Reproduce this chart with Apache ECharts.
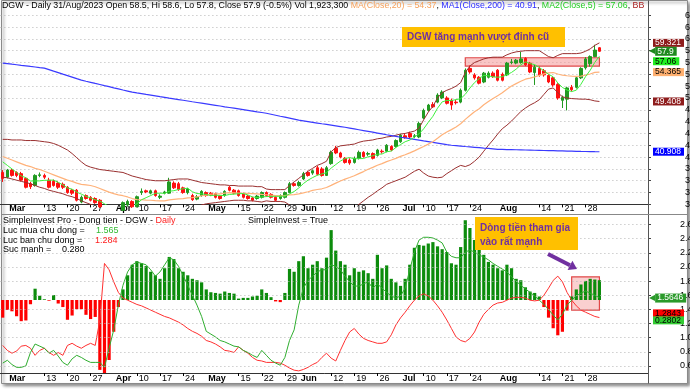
<!DOCTYPE html>
<html><head><meta charset="utf-8">
<script src="https://cdn.jsdelivr.net/npm/echarts@6/dist/echarts.min.js"></script>
<style>html,body{margin:0;padding:0;background:#fff}#c{width:690px;height:390px}</style>
</head><body><div id="c"></div>
<script>
// ---------------- DATA ----------------
const tradingDays = [
  ['02',[28]],
  ['03',[1,2,3,6,7,8,9,10,13,14,15,16,17,20,21,22,23,24,27,28,29,30,31]],
  ['04',[3,4,5,6,7,10,11,12,13,14,17,18,19,20,21,24,25,26,27,28]],
  ['05',[4,5,8,9,10,11,12,15,16,17,18,19,22,23,24,25,26,29,30,31]],
  ['06',[1,2,5,6,7,8,9,12,13,14,15,16,19,20,21,22,23,26,27,28,29,30]],
  ['07',[3,4,5,6,7,10,11,12,13,14,17,18,19,20,21,24,25,26,27,28,31]],
  ['08',[1,2,3,4,7,8,9,10,11,14,15,16,17,18,21,22,23,24,25,28,29,30,31]]
];
const tickLabels = [
  ['03-01','Mar'],['03-13','13'],['03-20','20'],['03-27','27'],['04-03','Apr'],['04-10','10'],['04-17','17'],['04-24','24'],
  ['05-04','May'],['05-15','15'],['05-22','22'],['05-29','29'],['06-01','Jun'],['06-12','12'],['06-19','19'],['06-26','26'],
  ['07-03','Jul'],['07-10','10'],['07-17','17'],['07-24','24'],['08-01','Aug'],['08-14','14'],['08-21','21'],['08-28','28']
];
const monthNames = ['Mar','Apr','May','Jun','Jul','Aug'];
const lowTicks = [0.6,0.8,1.0,1.2,1.4,1.6,1.8,2.0,2.2,2.4,2.6];

const openP = [37.4,36.6,37.8,37.4,37.2,36.4,35.5,35.2,36.9,36.9,
36.1,35.9,35.6,35.4,34.9,34.4,34.4,32.4,33.5,33.2,
33.0,32.7,31.6,30.9,30.7,31.0,31.0,31.9,32.5,31.6,
34.0,34.3,33.9,34.3,33.2,33.9,33.9,35.6,35.5,34.8,
34.0,33.5,32.9,33.5,34.0,33.9,33.8,33.4,33.5,34.9,
34.4,34.3,33.8,33.4,33.1,33.0,33.2,34.0,33.7,33.2,
33.0,33.2,34.0,35.5,35.2,36.3,37.4,37.3,38.2,38.0,
36.9,38.9,41.5,40.7,39.8,39.5,39.1,39.8,40.8,40.5,
40.6,40.3,41.0,41.0,41.8,41.8,42.6,43.6,44.0,43.5,
43.4,46.6,47.9,48.9,49.3,50.0,50.0,49.6,49.3,49.3,
51.3,55.0,53.9,53.5,52.7,53.5,54.2,54.7,54.0,53.9,
56.0,55.9,56.0,56.7,55.9,54.3,55.0,54.6,53.8,53.4,
52.3,49.6,49.8,51.8,51.8,53.4,55.1,55.8,57.0,58.5];
const highP = [37.8,38.0,38.0,37.6,37.5,36.6,35.8,37.1,37.4,37.2,
36.5,36.2,35.9,35.7,35.1,34.6,34.6,33.5,33.7,33.4,
33.2,32.9,31.9,31.2,31.4,31.5,32.5,32.8,32.7,33.5,
34.7,34.5,34.5,34.5,33.7,34.3,36.5,35.9,35.8,35.0,
34.8,33.8,33.6,34.4,34.2,34.1,34.0,33.6,34.4,35.1,
34.6,34.5,34.0,33.6,33.3,33.6,34.2,34.2,33.9,33.4,
33.7,34.2,35.8,35.8,36.0,37.5,37.7,37.9,38.5,38.3,
38.5,41.1,41.9,40.9,40.0,39.8,40.1,41.1,41.0,40.9,
40.8,41.4,41.3,42.2,42.0,43.0,43.9,44.0,44.3,43.9,
46.0,48.2,49.0,49.3,50.8,51.3,50.3,49.9,49.7,51.6,
55.0,55.5,54.2,53.7,54.4,54.5,54.5,54.9,54.3,56.1,
56.6,56.6,57.8,56.9,56.1,55.6,55.3,54.9,54.0,53.6,
52.5,50.4,51.9,52.2,53.6,55.2,56.9,57.2,59.0,58.6];
const lowP = [35.8,36.4,36.7,36.6,35.9,34.7,34.6,35.0,36.6,36.3,
34.7,35.0,34.6,34.6,33.8,33.6,32.5,32.2,32.8,32.5,
32.1,31.4,30.7,30.3,30.4,30.6,30.9,31.6,31.4,31.5,
33.6,33.9,33.7,33.3,32.9,33.7,33.8,34.6,34.3,33.8,
33.7,32.6,32.7,33.3,33.3,33.4,33.0,32.8,33.3,34.2,
33.7,33.3,33.0,32.8,32.5,32.8,33.0,33.3,33.0,32.5,
32.8,33.0,33.9,35.0,35.0,36.1,36.7,37.0,36.9,36.7,
36.8,38.7,40.5,39.8,38.9,38.7,38.9,39.6,39.9,40.2,
39.6,40.1,40.6,40.8,41.0,41.6,42.4,43.1,43.1,43.2,
43.2,46.4,47.7,48.3,49.1,49.8,48.9,48.0,48.9,49.1,
51.1,54.1,53.1,52.3,52.5,53.3,53.4,52.8,52.8,53.7,
55.7,55.7,55.8,55.4,54.2,52.2,53.6,53.6,52.5,51.9,
49.7,48.3,47.9,51.1,51.6,53.2,54.8,55.3,56.9,57.8];
const closeP = [36.4,37.8,36.9,36.9,36.1,34.9,35.0,36.9,37.0,36.6,
34.9,35.2,34.9,34.9,34.0,33.9,32.7,33.2,33.0,32.7,
32.3,31.6,30.9,30.6,31.0,30.8,32.3,32.5,31.6,33.3,
34.2,34.1,34.3,33.5,33.4,34.1,35.8,34.8,34.5,34.0,
34.6,32.8,33.3,34.2,33.5,33.6,33.2,33.0,34.2,34.4,
33.9,33.5,33.2,33.0,32.7,33.4,34.0,33.5,33.2,32.7,
33.5,34.0,35.5,35.2,35.7,37.2,36.9,37.7,37.1,36.9,
38.2,40.8,40.7,40.0,39.1,39.0,39.8,40.8,40.1,40.6,
39.8,41.2,40.9,42.0,41.2,42.8,43.7,43.3,43.4,43.6,
45.7,47.9,48.8,48.5,50.5,51.0,49.1,48.8,49.2,51.3,
54.7,54.4,53.4,52.5,54.2,54.2,53.6,53.0,53.0,55.9,
56.1,56.4,56.6,55.6,54.4,55.2,53.9,53.9,52.7,52.2,
50.0,50.1,51.7,51.4,53.4,55.0,56.6,57.0,58.1,57.9];
const volumeLast = '1,923,300';
const changePct = '-0.5%';

const ma5 = [39.2,38.6,38.0,37.4,36.82,36.52,35.96,35.96,35.98,36.08,
36.08,36.12,35.72,35.3,34.78,34.58,34.08,33.74,33.36,33.1,
32.78,32.56,32.1,31.62,31.28,30.98,31.12,31.44,31.64,32.1,
32.78,33.14,33.5,33.88,33.9,33.88,34.22,34.32,34.52,34.64,
34.74,34.14,33.84,33.78,33.68,33.48,33.56,33.5,33.5,33.68,
33.74,33.8,33.84,33.6,33.26,33.16,33.26,33.32,33.36,33.36,
33.38,33.38,33.78,34.18,34.78,35.52,36.1,36.54,36.92,37.16,
37.36,38.14,38.74,39.32,39.76,39.92,39.72,39.74,39.76,40.06,
40.22,40.5,40.52,40.9,41.02,41.62,42.12,42.6,42.88,43.36,
43.94,44.78,45.88,46.9,48.28,49.34,49.58,49.58,49.72,49.88,
50.62,51.68,52.6,53.26,53.84,53.74,53.58,53.5,53.6,53.94,
54.32,54.88,55.6,56.12,55.82,55.64,55.14,54.6,54.02,53.58,
52.54,51.78,51.34,51.08,51.32,52.32,53.62,54.68,56.02,57.06];
const ma20 = [40.1,39.8,39.5,39.2,38.9,38.6,38.4,38.1,37.9,37.6,
37.3,37.0,36.7,36.4,36.1,35.9,35.6,35.4,35.3,35.2,
34.99,34.69,34.38,34.07,33.82,33.61,33.47,33.26,32.99,32.82,
32.79,32.73,32.70,32.63,32.60,32.61,32.77,32.85,32.92,32.99,
33.10,33.16,33.28,33.46,33.58,33.72,33.77,33.79,33.92,33.98,
33.96,33.93,33.88,33.85,33.82,33.78,33.69,33.63,33.56,33.50,
33.44,33.50,33.61,33.66,33.77,33.95,34.14,34.37,34.52,34.64,
34.86,35.22,35.60,35.95,36.27,36.55,36.84,37.20,37.55,37.94,
38.26,38.62,38.89,39.23,39.50,39.78,40.12,40.40,40.72,41.05,
41.43,41.78,42.19,42.61,43.18,43.78,44.25,44.65,45.10,45.64,
46.38,47.04,47.67,48.19,48.84,49.41,49.91,50.39,50.87,51.49,
52.01,52.43,52.82,53.18,53.37,53.58,53.82,54.08,54.25,54.30,
54.06,53.85,53.76,53.71,53.67,53.71,53.86,54.06,54.32,54.365];
const ma200 = [55.90,55.81,55.71,55.62,55.52,55.43,55.33,55.24,55.14,55.05,
54.80,54.54,54.29,54.03,53.78,53.53,53.27,53.02,52.83,52.65,
52.46,52.28,52.09,51.91,51.72,51.54,51.35,51.17,50.98,50.85,
50.73,50.60,50.48,50.35,50.22,50.10,49.97,49.85,49.73,49.61,
49.49,49.36,49.24,49.12,49.00,48.88,48.76,48.64,48.51,48.39,
48.27,48.15,48.03,47.91,47.79,47.66,47.54,47.42,47.25,47.08,
46.91,46.75,46.58,46.41,46.24,46.12,46.00,45.88,45.76,45.64,
45.53,45.41,45.29,45.17,45.05,44.91,44.77,44.63,44.49,44.35,
44.21,44.07,43.93,43.78,43.64,43.50,43.36,43.24,43.11,42.99,
42.87,42.74,42.62,42.49,42.37,42.25,42.12,42.00,41.93,41.86,
41.79,41.73,41.66,41.59,41.52,41.46,41.39,41.32,41.30,41.28,
41.26,41.24,41.22,41.20,41.18,41.16,41.14,41.12,41.10,41.08,
41.06,41.04,41.02,41.00,40.98,40.96,40.95,40.94,40.92,40.908];
const bbUpper = [43.0,43.0,42.9,42.9,42.9,42.8,42.8,42.8,42.7,42.6,
42.5,42.3,42.0,41.6,41.2,40.6,39.9,39.2,38.6,38.3,
38.1,37.9,37.8,37.7,37.6,37.5,37.4,37.1,36.8,36.6,
36.4,36.2,36.1,36.0,36.0,36.0,36.1,36.2,36.3,36.3,
36.3,36.1,35.9,35.7,35.6,35.5,35.4,35.3,35.3,35.2,
35.2,35.1,35.1,35.1,35.1,35.0,35.0,34.6,34.5,34.5,
34.5,34.5,35.2,35.8,36.4,37.0,37.6,38.1,38.6,38.9,
39.3,40.9,41.6,41.9,42.0,42.1,42.2,42.5,42.7,42.8,
42.9,43.1,43.2,43.4,43.5,43.7,43.9,44.0,44.2,44.4,
44.9,46.3,47.6,48.6,50.0,50.9,51.3,51.6,52.0,52.6,
54.3,55.4,56.0,56.3,56.6,56.8,56.9,56.9,56.9,57.3,
57.6,57.8,57.9,58.0,58.0,58.0,58.0,57.5,57.0,56.8,
57.2,57.5,57.5,57.5,57.5,57.6,57.9,58.3,58.9,59.321];
const bbLower = [36.6,36.5,36.3,36.1,35.9,35.7,35.5,35.2,34.9,34.7,
34.4,34.2,34.0,33.8,33.5,33.3,33.0,32.6,32.3,32.0,
31.7,31.4,31.0,30.6,30.2,29.9,29.7,29.6,29.6,29.6,
29.6,29.6,29.7,29.8,29.9,30.0,30.2,30.4,30.6,30.8,
31.1,31.3,31.6,31.9,32.1,32.2,32.3,32.4,32.5,32.6,
32.7,32.7,32.7,32.6,32.6,32.5,32.4,32.6,32.5,32.5,
32.5,32.4,31.9,31.5,31.0,30.5,30.2,30.1,30.0,30.1,
30.4,29.5,29.3,29.5,29.9,30.5,31.4,32.0,32.6,33.2,
33.7,34.3,34.8,35.4,35.7,36.0,36.3,36.6,37.1,37.6,
37.95,37.3,36.8,36.6,36.5,36.6,37.2,37.7,38.2,38.6,
38.4,38.7,39.3,40.0,41.0,42.0,42.9,43.9,44.8,45.4,
46.1,46.9,47.7,48.3,48.8,49.2,49.7,50.6,51.5,51.7,
50.9,50.2,50.0,49.9,49.85,49.8,49.8,49.7,49.5,49.408];

const lucMua = [0.64,0.68,0.62,0.58,0.58,0.60,0.79,0.91,0.88,0.85,
0.78,0.82,0.74,0.65,0.61,0.70,0.75,0.72,0.68,0.65,
0.65,0.65,0.58,0.85,1.11,1.46,1.74,1.93,2.03,2.07,
2.05,2.03,1.96,1.87,1.93,2.03,2.13,2.10,2.01,1.88,
1.74,1.60,1.46,1.30,1.09,1.05,1.01,0.96,0.94,0.91,
0.88,0.87,0.82,0.79,0.75,0.72,0.82,0.75,0.68,0.64,
0.61,0.72,0.96,1.11,1.46,1.70,1.81,1.87,1.93,1.96,
1.96,2.03,2.01,1.96,1.87,1.79,1.73,1.73,1.76,1.79,
1.70,1.76,1.70,1.64,1.59,1.56,1.59,1.70,1.96,2.21,
2.38,2.42,2.42,2.41,2.38,2.34,2.21,2.15,2.13,2.13,
2.21,2.24,2.21,2.17,2.14,2.10,2.05,2.01,1.97,1.93,
1.86,1.80,1.74,1.69,1.64,1.59,1.53,1.47,1.40,1.32,
1.25,1.33,1.46,1.53,1.59,1.63,1.66,1.63,1.60,1.5646];
const lucBan = [0.89,0.82,0.78,0.81,0.88,0.89,0.85,0.75,0.82,0.85,
0.79,0.75,0.79,0.75,0.89,0.92,0.88,0.85,0.89,0.92,
0.89,1.25,2.05,1.96,1.79,1.64,1.56,1.53,1.50,1.47,
1.45,1.42,1.39,1.36,1.33,1.30,1.28,1.25,1.22,1.18,
1.13,1.09,1.06,1.02,0.96,0.94,0.91,0.87,0.82,0.81,
0.79,0.87,0.82,0.78,0.72,0.68,0.67,0.65,0.65,0.65,
0.64,0.61,0.57,0.54,0.53,0.55,0.58,0.62,0.65,0.72,
0.78,0.71,0.67,0.82,0.96,1.08,1.13,1.05,0.99,0.96,
0.94,0.92,0.92,0.94,1.04,1.18,1.28,1.36,1.45,1.53,
1.59,1.62,1.59,1.53,1.45,1.36,1.25,1.13,1.01,0.96,
0.94,0.99,1.08,1.22,1.33,1.40,1.46,1.49,1.50,1.53,
1.56,1.57,1.57,1.56,1.53,1.52,1.53,1.60,1.70,1.81,
1.87,1.79,1.64,1.53,1.45,1.39,1.36,1.33,1.30,1.2843];
const sucManh = [-0.25,-0.14,-0.16,-0.23,-0.30,-0.29,-0.06,0.16,0.06,0.01,
-0.01,0.07,-0.05,-0.10,-0.28,-0.22,-0.13,-0.13,-0.21,-0.27,
-0.24,-0.99,-1.05,-0.85,-0.45,-0.10,0.15,0.35,0.50,0.55,
0.52,0.48,0.40,0.35,0.30,0.45,0.61,0.58,0.45,0.40,
0.35,0.30,0.28,0.25,0.15,0.11,0.10,0.09,0.12,0.10,
0.09,0.02,0.03,0.03,0.05,0.06,0.15,0.10,0.04,-0.02,
-0.03,0.10,0.44,0.40,0.55,0.62,0.45,0.50,0.55,0.45,
0.60,0.99,0.70,0.55,0.50,0.35,0.45,0.40,0.42,0.38,
0.30,0.64,0.45,0.49,0.30,0.25,0.20,0.30,0.50,0.74,
0.78,0.77,0.80,0.82,0.76,0.72,0.68,0.52,0.50,0.75,
1.13,1.02,0.85,0.71,0.64,0.54,0.50,0.45,0.42,0.50,
0.45,0.30,0.28,0.18,0.12,0.10,0.05,-0.10,-0.25,-0.40,
-0.50,-0.45,-0.15,0.05,0.15,0.22,0.27,0.30,0.29,0.2802];

// ---------------- BUILD ----------------
const dates = [];
tradingDays.forEach(([m, ds]) => ds.forEach(d => dates.push(m + '-' + String(d).padStart(2, '0'))));
const cats = dates.slice();
for (let k = 1; k <= 10; k++) cats.push('pad' + k);
const labelMap = new Map(tickLabels);
const last = a => a[a.length - 1];
const candles = dates.map((d, i) => [openP[i], closeP[i], lowP[i], highP[i]]);
const F = 'Liberation Sans, Arial, sans-serif';

function xAxisCfg(g, margin) {
  return {
    gridIndex: g, type: 'category', data: cats, boundaryGap: true,
    axisLine: { show: true, onZero: false, lineStyle: { color: '#333', width: 1 } },
    axisTick: { show: true, alignWithLabel: true, length: 3,
      interval: (i, v) => labelMap.has(v) && monthNames.indexOf(labelMap.get(v)) < 0,
      lineStyle: { color: '#000' } },
    axisLabel: {
      interval: (i, v) => labelMap.has(v),
      formatter: v => { const t = labelMap.get(v) || ''; return monthNames.indexOf(t) >= 0 ? '{m|' + t + '}' : t; },
      align: 'left', margin: margin, fontSize: 9, color: '#000', fontFamily: F, padding: [0, 0, 0, 2],
      rich: { m: { fontWeight: 'bold', fontSize: 9, fontFamily: F, color: '#000' } }
    },
    splitLine: { show: false }
  };
}
function tag(value, text, bg, fg, dy, arrow) {
  const lbl = {
    show: true, position: 'end', distance: arrow ? 1 : 5, offset: [0, dy || 0], opacity: 1,
    fontSize: 8.5, fontFamily: F, color: fg
  };
  if (arrow) {
    lbl.formatter = '{t|\u25C0}{b|' + text + '}';
    lbl.rich = {
      t: { color: bg, fontSize: 8, fontFamily: 'DejaVu Sans', lineHeight: 8 },
      b: { backgroundColor: bg, color: fg, fontSize: 8.5, fontFamily: F, padding: [0, 3, 0, 2], lineHeight: 8 }
    };
  } else {
    lbl.formatter = text;
    lbl.backgroundColor = bg;
    lbl.padding = [0, 3, 0, 2];
    lbl.lineHeight = 8;
  }
  return { yAxis: value, lineStyle: { color: 'rgba(0,0,0,0)', width: 0 }, label: lbl };
}
function mline(items) {
  return { silent: true, symbol: 'none', animation: false, data: items };
}
const f2 = v => (v + 1e-9).toFixed(2);

const header = '{k|DGW - Daily 31/Aug/2023 Open ' + last(openP) + ', Hi ' + last(highP) + ', Lo ' + last(lowP) +
  ', Close ' + last(closeP) + ' (' + changePct + ') Vol ' + volumeLast + ' }' +
  '{o|MA(Close,20) = ' + f2(last(ma20)) + '}{k|, }{b|MA1(Close,200) = ' + f2(last(ma200)) + '}{k|, }' +
  '{g|MA2(Close,5) = ' + f2(last(ma5)) + '}{k|, }{r|BB}';
const rs = (c, s) => ({ color: c, fontSize: s || 9, fontFamily: F, fontWeight: 'normal' });
const tstyle = (c, extra) => ({ textStyle: Object.assign({ color: c, fontSize: 9, fontFamily: F, fontWeight: 'normal' }, extra || {}) });

const option = {
  animation: false,
  backgroundColor: '#fff',
  title: [
    Object.assign({ text: header, left: 2, top: 1, padding: 0 }, tstyle('#000', { fontSize: 8.8, rich: { k: rs('#000', 8.8), o: rs('#f5a05a', 8.8), b: rs('#2a2aff', 8.8), g: rs('#22cc22', 8.8), r: rs('#aa2222', 8.8) } })),
    Object.assign({ text: '{k|SimpleInvest Pro - Dong tien - DGW - }{r|Daily}', left: 3, top: 216, padding: 0 }, tstyle('#000', { rich: { k: rs('#000'), r: rs('#ff2020') } })),
    Object.assign({ text: 'SimpleInvest = True', left: 248, top: 216, padding: 0 }, tstyle('#000')),
    Object.assign({ text: 'Luc mua chu dong =', left: 3, top: 226, padding: 0 }, tstyle('#000')),
    Object.assign({ text: last(lucMua).toFixed(3), left: 96, top: 226, padding: 0 }, tstyle('#33bb33')),
    Object.assign({ text: 'Luc ban chu dong =', left: 3, top: 236, padding: 0 }, tstyle('#000')),
    Object.assign({ text: last(lucBan).toFixed(3), left: 95, top: 236, padding: 0 }, tstyle('#ff2020')),
    Object.assign({ text: 'Suc manh =', left: 3, top: 245, padding: 0 }, tstyle('#000')),
    Object.assign({ text: last(sucManh).toFixed(3), left: 62, top: 245, padding: 0 }, tstyle('#000'))
  ],
  grid: [
    { left: 0.4, right: 42, top: 15.2, height: 189.2, outerBoundsMode: 'none', containLabel: false },
    { left: 0.4, right: 42, top: 215, height: 158, outerBoundsMode: 'none', containLabel: false }
  ],
  xAxis: [xAxisCfg(0, 0), xAxisCfg(1, 1)],
  yAxis: [
    { gridIndex: 0, type: 'value', position: 'right', min: 32, max: 64, interval: 2,
      axisLine: { show: true, lineStyle: { color: '#444' } },
      axisTick: { show: true, length: 3, lineStyle: { color: '#444' } },
      axisLabel: { margin: 37, fontSize: 9, color: '#000', fontFamily: F },
      splitLine: { show: true, lineStyle: { color: '#b5b5b5', type: [1, 3] } } },
    { gridIndex: 1, type: 'value', position: 'right', min: 0.5, max: 2.735,
      axisLine: { show: true, lineStyle: { color: '#444' } },
      axisTick: { show: true, length: 3, customValues: lowTicks, lineStyle: { color: '#444' } },
      axisLabel: { margin: 32, fontSize: 9, color: '#000', fontFamily: F, customValues: lowTicks, formatter: v => v.toFixed(1) },
      splitLine: { show: false } },
    { gridIndex: 1, type: 'value', position: 'right', min: -1.034, max: 1.204, show: false, splitLine: { show: false } }
  ],
  series: [
    { name: 'BBU', type: 'line', xAxisIndex: 0, yAxisIndex: 0, data: bbUpper, symbol: 'none', silent: true,
      lineStyle: { color: '#9a3030', width: 1 }, markLine: mline([tag(last(bbUpper), '59.321', '#8e1c1c', '#fff')]) },
    { name: 'BBL', type: 'line', xAxisIndex: 0, yAxisIndex: 0, data: bbLower, symbol: 'none', silent: true,
      lineStyle: { color: '#9a3030', width: 1 }, markLine: mline([tag(last(bbLower), '49.408', '#8e1c1c', '#fff')]) },
    { name: 'MA200', type: 'line', xAxisIndex: 0, yAxisIndex: 0, data: ma200, symbol: 'none', silent: true,
      lineStyle: { color: '#3a3aff', width: 1.2 }, markLine: mline([tag(last(ma200), '40.908', '#0000ff', '#fff')]) },
    { name: 'MA20', type: 'line', xAxisIndex: 0, yAxisIndex: 0, data: ma20, symbol: 'none', silent: true,
      lineStyle: { color: '#ffb27a', width: 1.2 }, markLine: mline([tag(last(ma20), '54.365', '#ffb070', '#000')]) },
    { name: 'price', type: 'candlestick', xAxisIndex: 0, yAxisIndex: 0, data: candles, barWidth: 3, silent: true,
      itemStyle: { color: '#229a22', color0: '#ff1010', borderColor: '#229a22', borderColor0: '#ff1010', borderWidth: 1 },
      markLine: mline([tag(last(closeP), String(last(closeP)), '#1f8a1f', '#fff', 0, true)]),
      markArea: { silent: true, itemStyle: { color: 'rgba(244,150,150,0.55)', borderColor: '#e04848', borderWidth: 1.2 },
        data: [[{ xAxis: dates[100], yAxis: 56.8 }, { xAxis: dates[129], yAxis: 55.4 }]] } },
    { name: 'MA5', type: 'line', xAxisIndex: 0, yAxisIndex: 0, data: ma5, symbol: 'none', silent: true, z: 3,
      lineStyle: { color: '#3ef03e', width: 1 }, markLine: mline([tag(last(ma5), '57.06', '#22ee22', '#000', 5)]) },

    { name: 'sucmanh', type: 'bar', xAxisIndex: 1, yAxisIndex: 2, data: sucManh, barWidth: 3.2, silent: true,
      itemStyle: { color: p => p.value >= 0 ? '#0c8c0c' : '#ff0000' } },
    { name: 'ban', type: 'line', xAxisIndex: 1, yAxisIndex: 1, data: lucBan, symbol: 'none', silent: true,
      lineStyle: { color: '#ff3030', width: 1 },
      markLine: mline(lowTicks.map(v => ({ yAxis: v, lineStyle: { color: '#b5b5b5', type: [1, 3], width: 1 }, label: { show: false } }))
        .concat([tag(last(lucBan), '1.2843', '#ff0000', '#000', -4.5), tag(last(lucBan), last(sucManh).toFixed(4), '#33cc33', '#000', 2.5)])) },
    { name: 'mua', type: 'line', xAxisIndex: 1, yAxisIndex: 1, data: lucMua, symbol: 'none', silent: true,
      lineStyle: { color: '#2fae2f', width: 1 },
      markLine: mline([tag(last(lucMua), last(lucMua).toFixed(4), '#2a9a2a', '#fff', 0, true)]),
      markArea: { silent: true, itemStyle: { color: 'rgba(244,150,150,0.45)', borderColor: '#e04848', borderWidth: 1.2 },
        data: [[{ xAxis: dates[123], yAxis: 1.86 }, { xAxis: dates[129], yAxis: 1.39 }]] } }
  ],
  graphic: [
    { type: 'rect', z: -100, silent: true, shape: { x: 1.5, y: 0.5, width: 686, height: 383 },
      style: { fill: '#fff', stroke: '#8a8a8a', lineWidth: 1, shadowBlur: 3, shadowOffsetX: 2, shadowOffsetY: 2, shadowColor: 'rgba(0,0,0,0.45)' } },
    { type: 'line', z: 50, silent: true, shape: { x1: 648.5, y1: 0.5, x2: 648.5, y2: 383.5 }, style: { stroke: '#555', lineWidth: 1 } },
    { type: 'line', z: 50, silent: true, shape: { x1: 2, y1: 214.5, x2: 688, y2: 214.5 }, style: { stroke: '#888', lineWidth: 1 } },
    { type: 'rect', z: 100, silent: true, shape: { x: 402, y: 27, width: 163, height: 20 }, style: { fill: '#ffc000' } },
    { type: 'text', z: 101, silent: true, style: { x: 407, y: 37.5, text: 'DGW tăng mạnh vượt đỉnh cũ', font: 'bold 10px ' + F, fill: '#7030a0', verticalAlign: 'middle' } },
    { type: 'rect', z: 100, silent: true, shape: { x: 475, y: 217, width: 103, height: 33 }, style: { fill: '#ffc000' } },
    { type: 'text', z: 101, silent: true, style: { x: 480, y: 221, text: 'Dòng tiền tham gia\nvào rất mạnh', font: 'bold 10px ' + F, fill: '#7030a0', lineHeight: 14, verticalAlign: 'top' } },
    { type: 'line', z: 100, silent: true, shape: { x1: 548, y1: 254, x2: 570, y2: 265.3 }, style: { stroke: '#7030a0', lineWidth: 4 } },
    { type: 'polygon', z: 100, silent: true, shape: { points: [[577, 269], [567.6, 269.9], [572.4, 260.7]] }, style: { fill: '#7030a0' } }
  ]
};
const chart = echarts.init(document.getElementById('c'), null, { renderer: 'canvas' });
chart.setOption(option);
</script>
</body></html>
